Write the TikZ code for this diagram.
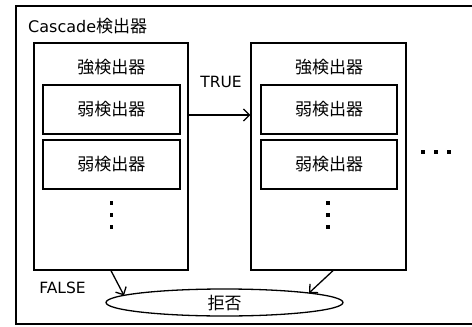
\documentclass[tikz,border=0pt]{standalone}
\usepackage{fontspec}
\setmainfont{DejaVu Sans}
\newfontfamily\jp{Noto Sans CJK JP}
\usetikzlibrary{arrows.meta,shapes.geometric}
\tikzset{
  box/.style={draw, line width=1.3pt, inner sep=0pt},
  lbl/.style={inner sep=0pt, font=\fontsize{15.5}{17}\selectfont},
  jlbl/.style={inner sep=0pt, font=\fontsize{17}{19}\selectfont\jp},
  arr/.style={line width=1.3pt, -{Straight Barb[length=6pt,width=12pt]}},
  dot/.style={fill=black}
}
\begin{document}
\begin{tikzpicture}[x=1pt,y=-1pt]
\useasboundingbox (0,0) rectangle (472,327);
\fill[white] (0,0) rectangle (472,327);
\draw[line width=1.4pt] (16,6) rectangle (490,324);
\node[inner sep=0pt, anchor=west] (title) at (28,26) {\fontsize{16}{18}\selectfont Cascade{\fontsize{17}{19}\selectfont\jp 検出器}};
% strong boxes
\node[box, minimum width=154pt, minimum height=227pt] (s1) at (111,156.5) {};
\node[box, minimum width=155pt, minimum height=227pt] (s2) at (328.5,156.5) {};
\node[jlbl] (s1t) at (111.5,67) {強検出器};
\node[jlbl] (s2t) at (329,67) {強検出器};
% weak boxes
\node[box, minimum width=137pt, minimum height=49pt] (w11) at (111.5,109.5) {};
\node[jlbl] at (w11) {弱検出器};
\node[box, minimum width=137pt, minimum height=49pt] (w12) at (111.5,164.5) {};
\node[jlbl] at (w12) {弱検出器};
\node[box, minimum width=136pt, minimum height=49pt] (w21) at (329,109.5) {};
\node[jlbl] at (w21) {弱検出器};
\node[box, minimum width=136pt, minimum height=49pt] (w22) at (329,164.5) {};
\node[jlbl] at (w22) {弱検出器};
% vertical dots
\foreach \yy in {203,215,227} {
  \fill[dot] (111.5,\yy) ++(-1.7,-1.7) rectangle ++(3.4,3.4);
  \fill[dot] (328,\yy) ++(-1.7,-1.7) rectangle ++(3.4,3.4);
}
% horizontal dots
\foreach \xx in {423,436,449} {
  \fill[dot] (\xx,152) ++(-1.7,-1.7) rectangle ++(3.4,3.4);
}
% TRUE arrow
\draw[arr] (s1.east |- 0,115) -- (s2.west |- 0,115);
\node[lbl] (true) at (221,81.5) {TRUE};
% reject ellipse
\node[draw, ellipse, line width=1.3pt, minimum width=237pt, minimum height=27pt, inner sep=0pt] (rej) at (224.5,302.5) {};
\node[jlbl] (rejt) at (224.5,303) {拒否};
\node[lbl] (false) at (62.5,288) {FALSE};
\coordinate (e1) at (124,295.5);
\coordinate (e2) at (309,293);
\draw[arr] (s1.south) -- (e1);
\draw[arr] ([xshift=4.5pt]s2.south) -- (e2);
\end{tikzpicture}
\end{document}
